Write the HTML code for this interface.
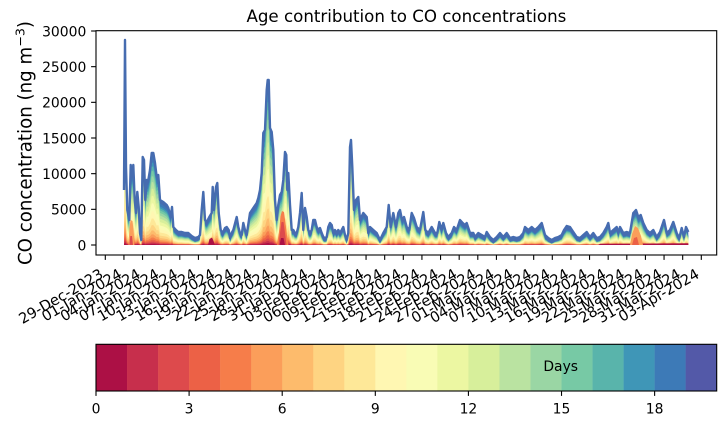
<!DOCTYPE html>
<html>
<head>
<meta charset="utf-8">
<style>
  html, body { margin: 0; padding: 0; background: #ffffff; }
  svg { display: block; }
  text { font-family: "DejaVu Sans", "Liberation Sans", sans-serif; fill: #000; }
</style>
</head>
<body>
<svg width="725" height="425" viewBox="0 0 725 425" xmlns="http://www.w3.org/2000/svg">
  <defs>
    <path id="area" d="M124,245 L124,190 L125,40 L126,167 L127.3,210 L129.3,220 L130.7,165 L132,177 L133.3,165 L134.7,200 L136,213 L137.3,192 L138.7,207 L140,233 L141.3,240 L142.7,157 L144,160 L145.3,200 L146.7,180 L148,182 L150,170 L151.7,153 L153.3,153 L155,163 L156.7,177 L158.3,175 L160,200 L163.3,202 L166.7,205 L168.3,208 L170.7,217 L172,207 L173.3,227 L176,230 L178.3,232 L181.7,232 L185,233 L188.3,233 L191.7,236 L195,238 L198.3,237 L200,235 L201.7,210 L203.3,192 L205,220 L206.7,222 L209.3,217 L211.7,213 L212.7,187 L214,210 L216,187 L217.3,183 L218.7,213 L220.7,230 L222.7,233 L225,228 L226.7,227 L228.7,230 L230,238 L231.7,233 L233.3,230 L236.7,217 L238.3,227 L240,233 L241.7,235 L243.3,223 L245,230 L246.7,235 L250,213 L253.3,208 L256.7,203 L258.3,198 L260,190 L261.7,173 L263.3,133 L265,130 L266.7,90 L267.7,80 L268.7,80 L270,128 L271.7,132 L273.3,150 L275,200 L276.7,220 L278.3,205 L280,195 L281.7,192 L283.3,180 L285,152 L286.3,155 L287.3,190 L288.3,173 L290,205 L291.7,230 L293.3,230 L295,233 L296.7,233 L298.3,227 L300,213 L301.7,193 L303.3,230 L305,208 L306.7,217 L308.3,230 L310,233 L311.7,230 L313.3,220 L315,220 L316.7,227 L318.3,230 L320,228 L321.7,233 L323.3,237 L325,238 L326.7,237 L328.3,227 L330,223 L331.7,225 L333.3,233 L335,230 L336.7,233 L338.3,230 L340,233 L341.7,230 L343.3,227 L345,235 L346.7,240 L348.3,233 L350,147 L351,140 L352.3,167 L354,210 L356,200 L358.3,197 L360,220 L363.3,213 L366.7,217 L368.3,233 L370,227 L373.3,230 L376.7,233 L380,240 L383.3,233 L386.7,227 L388.7,205 L390.7,227 L393.3,213 L396,227 L398.3,213 L400,210 L402,220 L404,217 L406.7,227 L409.3,230 L411.7,213 L414,218 L416.7,227 L420,230 L423.3,212 L425.3,230 L428.3,233 L431.7,227 L435,233 L437.3,233 L439.3,222 L441.7,230 L443.3,223 L446,233 L448.3,237 L451.7,233 L454,227 L456.7,230 L460,220 L462.7,223 L465,225 L466.7,223 L470,233 L473.3,233 L475,237 L478.3,233 L481.7,235 L485,237 L486.7,232 L490,237 L493.3,240 L496.7,237 L500,233 L503.3,237 L506.7,233 L510,238 L513.3,237 L516.7,238 L520,237 L523.3,233 L525,227 L528.3,230 L531.7,227 L535,230 L538.3,227 L541.7,223 L545,235 L548.3,238 L551.7,240 L555,238 L558.3,237 L561.7,235 L564,230 L566.7,226 L570,227 L573.3,232 L576.7,237 L580,238 L583.3,235 L586.7,232 L590,237 L593.3,233 L596.7,238 L600,237 L603.3,233 L606.7,227 L608.3,223 L610,233 L613.3,230 L616.7,227 L618.3,233 L620,227 L623.3,233 L626.7,232 L630,233 L633.3,213 L636,210 L638.3,217 L640.7,215 L643.3,223 L646.7,230 L650,233 L653.3,230 L656.7,237 L660,232 L664,220 L666.7,233 L670,230 L673.3,222 L676.7,233 L679.3,238 L681.7,228 L684,237 L686,227 L688.3,232 L688.3,245 Z"/>
    <clipPath id="cb"><rect x="0" y="0" width="725" height="245"/></clipPath>
  </defs>

  <!-- Title -->
  <text x="406.4" y="22" font-size="16.67" text-anchor="middle">Age contribution to CO concentrations</text>

  <!-- Y label -->
  <text x="31.5" y="143" font-size="18.2" text-anchor="middle" transform="rotate(-90 31.5 143)">CO concentration (ng m<tspan font-size="12.7" dy="-7">−3</tspan><tspan dy="7">)</tspan></text>

  <!-- Stacked areas -->
  <use href="#area" fill="rgb(70,108,176)"/>
  <g clip-path="url(#cb)">
    <g>
      <use href="#area" fill="rgb(61,122,183)" transform="translate(0,245) scale(1,1.0) translate(0,-241.5)"/>
      <use href="#area" fill="rgb(63,150,183)" transform="translate(0,245) scale(1,0.93) translate(0,-241.5)"/>
      <use href="#area" fill="rgb(89,180,171)" transform="translate(0,245) scale(1,0.885) translate(0,-241.5)"/>
      <use href="#area" fill="rgb(119,201,165)" transform="translate(0,245) scale(1,0.835) translate(0,-241.5)"/>
      <use href="#area" fill="rgb(154,214,164)" transform="translate(0,245) scale(1,0.775) translate(0,-241.5)"/>
      <use href="#area" fill="rgb(186,227,161)" transform="translate(0,245) scale(1,0.71) translate(0,-241.5)"/>
      <use href="#area" fill="rgb(215,239,155)" transform="translate(0,245) scale(1,0.635) translate(0,-241.5)"/>
      <use href="#area" fill="rgb(236,247,162)" transform="translate(0,245) scale(1,0.555) translate(0,-241.5)"/>
      <use href="#area" fill="rgb(249,252,181)" transform="translate(0,245) scale(1,0.47) translate(0,-241.5)"/>
      <use href="#area" fill="rgb(255,247,178)" transform="translate(0,245) scale(1,0.38) translate(0,-241.5)"/>
      <use href="#area" fill="rgb(254,232,152)" transform="translate(0,245) scale(1,0.3) translate(0,-241.5)"/>
      <use href="#area" fill="rgb(254,212,130)" transform="translate(0,245) scale(1,0.225) translate(0,-241.5)"/>
      <use href="#area" fill="rgb(253,187,108)" transform="translate(0,245) scale(1,0.165) translate(0,-241.5)"/>
      <use href="#area" fill="rgb(251,158,90)" transform="translate(0,245) scale(1,0.12) translate(0,-241.5)"/>
      <use href="#area" fill="rgb(246,125,74)" transform="translate(0,245) scale(1,0.085) translate(0,-241.5)"/>
      <use href="#area" fill="rgb(236,97,70)" transform="translate(0,245) scale(1,0.06) translate(0,-241.5)"/>
      <use href="#area" fill="rgb(221,74,76)" transform="translate(0,245) scale(1,0.04) translate(0,-241.5)"/>
      <use href="#area" fill="rgb(199,47,76)" transform="translate(0,245) scale(1,0.025) translate(0,-241.5)"/>
      <use href="#area" fill="rgb(172,16,69)" transform="translate(0,245) scale(1,0.012) translate(0,-241.5)"/>
    </g>
    <!-- local red/orange cores -->
    <polygon points="128.5,245 129.5,228 130.5,220 132.5,221 133.5,230 134.5,245" fill="rgb(251,158,90)"/>
    <polygon points="129.3,245 130.3,236 132,236 133,245" fill="rgb(221,74,76)"/>
    <polygon points="277,245 279,232 280.5,216 282,211 284,212 285.5,223 287,236 288.5,245" fill="rgb(246,125,74)"/>
    <polygon points="278.5,245 280,233 281.5,222 283.5,222 285,233 286.5,245" fill="rgb(221,74,76)"/>
    <polygon points="279.5,245 281,238 283.5,238 285,245" fill="rgb(172,16,69)"/>
    <polygon points="208,245 209.5,239 212,237.5 213.5,241 215,245" fill="rgb(172,16,69)"/>
    <polygon points="598,245 600,243.8 688.3,243.3 688.3,245" fill="rgb(172,16,69)"/>
    <polygon points="630,245 632,234 635,226 638,228 641,236 643,245" fill="rgb(251,158,90)"/>
    <polygon points="632,245 634,238 637,237 639,245" fill="rgb(236,97,70)"/>
  </g>
  <path d="M124,190 L125,40 L126,167 L127.3,210 L129.3,220 L130.7,165 L132,177 L133.3,165 L134.7,200 L136,213 L137.3,192 L138.7,207 L140,233 L141.3,240 L142.7,157 L144,160 L145.3,200 L146.7,180 L148,182 L150,170 L151.7,153 L153.3,153 L155,163 L156.7,177 L158.3,175 L160,200 L163.3,202 L166.7,205 L168.3,208 L170.7,217 L172,207 L173.3,227 L176,230 L178.3,232 L181.7,232 L185,233 L188.3,233 L191.7,236 L195,238 L198.3,237 L200,235 L201.7,210 L203.3,192 L205,220 L206.7,222 L209.3,217 L211.7,213 L212.7,187 L214,210 L216,187 L217.3,183 L218.7,213 L220.7,230 L222.7,233 L225,228 L226.7,227 L228.7,230 L230,238 L231.7,233 L233.3,230 L236.7,217 L238.3,227 L240,233 L241.7,235 L243.3,223 L245,230 L246.7,235 L250,213 L253.3,208 L256.7,203 L258.3,198 L260,190 L261.7,173 L263.3,133 L265,130 L266.7,90 L267.7,80 L268.7,80 L270,128 L271.7,132 L273.3,150 L275,200 L276.7,220 L278.3,205 L280,195 L281.7,192 L283.3,180 L285,152 L286.3,155 L287.3,190 L288.3,173 L290,205 L291.7,230 L293.3,230 L295,233 L296.7,233 L298.3,227 L300,213 L301.7,193 L303.3,230 L305,208 L306.7,217 L308.3,230 L310,233 L311.7,230 L313.3,220 L315,220 L316.7,227 L318.3,230 L320,228 L321.7,233 L323.3,237 L325,238 L326.7,237 L328.3,227 L330,223 L331.7,225 L333.3,233 L335,230 L336.7,233 L338.3,230 L340,233 L341.7,230 L343.3,227 L345,235 L346.7,240 L348.3,233 L350,147 L351,140 L352.3,167 L354,210 L356,200 L358.3,197 L360,220 L363.3,213 L366.7,217 L368.3,233 L370,227 L373.3,230 L376.7,233 L380,240 L383.3,233 L386.7,227 L388.7,205 L390.7,227 L393.3,213 L396,227 L398.3,213 L400,210 L402,220 L404,217 L406.7,227 L409.3,230 L411.7,213 L414,218 L416.7,227 L420,230 L423.3,212 L425.3,230 L428.3,233 L431.7,227 L435,233 L437.3,233 L439.3,222 L441.7,230 L443.3,223 L446,233 L448.3,237 L451.7,233 L454,227 L456.7,230 L460,220 L462.7,223 L465,225 L466.7,223 L470,233 L473.3,233 L475,237 L478.3,233 L481.7,235 L485,237 L486.7,232 L490,237 L493.3,240 L496.7,237 L500,233 L503.3,237 L506.7,233 L510,238 L513.3,237 L516.7,238 L520,237 L523.3,233 L525,227 L528.3,230 L531.7,227 L535,230 L538.3,227 L541.7,223 L545,235 L548.3,238 L551.7,240 L555,238 L558.3,237 L561.7,235 L564,230 L566.7,226 L570,227 L573.3,232 L576.7,237 L580,238 L583.3,235 L586.7,232 L590,237 L593.3,233 L596.7,238 L600,237 L603.3,233 L606.7,227 L608.3,223 L610,233 L613.3,230 L616.7,227 L618.3,233 L620,227 L623.3,233 L626.7,232 L630,233 L633.3,213 L636,210 L638.3,217 L640.7,215 L643.3,223 L646.7,230 L650,233 L653.3,230 L656.7,237 L660,232 L664,220 L666.7,233 L670,230 L673.3,222 L676.7,233 L679.3,238 L681.7,228 L684,237 L686,227 L688.3,232" fill="none" stroke="rgb(70,108,176)" stroke-width="2.4" stroke-linejoin="round"/>

  <!-- Axes frame -->
  <rect x="96" y="30.7" width="620.7" height="224.3" fill="none" stroke="#000" stroke-width="1.1"/>

  <!-- Y ticks -->
  <g stroke="#000" stroke-width="1.1">
    <line x1="91.1" y1="245" x2="96" y2="245"/>
    <line x1="91.1" y1="209.33" x2="96" y2="209.33"/>
    <line x1="91.1" y1="173.67" x2="96" y2="173.67"/>
    <line x1="91.1" y1="138" x2="96" y2="138"/>
    <line x1="91.1" y1="102.33" x2="96" y2="102.33"/>
    <line x1="91.1" y1="66.67" x2="96" y2="66.67"/>
    <line x1="91.1" y1="31" x2="96" y2="31"/>
  </g>
  <g font-size="13.9" text-anchor="end">
    <text x="86.3" y="250.4">0</text>
    <text x="86.3" y="214.7">5000</text>
    <text x="86.3" y="179.1">10000</text>
    <text x="86.3" y="143.4">15000</text>
    <text x="86.3" y="107.7">20000</text>
    <text x="86.3" y="72.1">25000</text>
    <text x="86.3" y="36.4">30000</text>
  </g>

  <!-- X ticks -->
  <g stroke="#000" stroke-width="1.1">
    <line x1="105.3" y1="255" x2="105.3" y2="259.9"/>
    <line x1="123.93" y1="255" x2="123.93" y2="259.9"/>
    <line x1="142.55" y1="255" x2="142.55" y2="259.9"/>
    <line x1="161.18" y1="255" x2="161.18" y2="259.9"/>
    <line x1="179.8" y1="255" x2="179.8" y2="259.9"/>
    <line x1="198.43" y1="255" x2="198.43" y2="259.9"/>
    <line x1="217.05" y1="255" x2="217.05" y2="259.9"/>
    <line x1="235.68" y1="255" x2="235.68" y2="259.9"/>
    <line x1="254.3" y1="255" x2="254.3" y2="259.9"/>
    <line x1="272.93" y1="255" x2="272.93" y2="259.9"/>
    <line x1="291.55" y1="255" x2="291.55" y2="259.9"/>
    <line x1="310.18" y1="255" x2="310.18" y2="259.9"/>
    <line x1="328.8" y1="255" x2="328.8" y2="259.9"/>
    <line x1="347.43" y1="255" x2="347.43" y2="259.9"/>
    <line x1="366.05" y1="255" x2="366.05" y2="259.9"/>
    <line x1="384.68" y1="255" x2="384.68" y2="259.9"/>
    <line x1="403.3" y1="255" x2="403.3" y2="259.9"/>
    <line x1="421.93" y1="255" x2="421.93" y2="259.9"/>
    <line x1="440.55" y1="255" x2="440.55" y2="259.9"/>
    <line x1="459.18" y1="255" x2="459.18" y2="259.9"/>
    <line x1="477.8" y1="255" x2="477.8" y2="259.9"/>
    <line x1="496.43" y1="255" x2="496.43" y2="259.9"/>
    <line x1="515.05" y1="255" x2="515.05" y2="259.9"/>
    <line x1="533.68" y1="255" x2="533.68" y2="259.9"/>
    <line x1="552.3" y1="255" x2="552.3" y2="259.9"/>
    <line x1="570.93" y1="255" x2="570.93" y2="259.9"/>
    <line x1="589.55" y1="255" x2="589.55" y2="259.9"/>
    <line x1="608.18" y1="255" x2="608.18" y2="259.9"/>
    <line x1="626.8" y1="255" x2="626.8" y2="259.9"/>
    <line x1="645.43" y1="255" x2="645.43" y2="259.9"/>
    <line x1="664.05" y1="255" x2="664.05" y2="259.9"/>
    <line x1="682.68" y1="255" x2="682.68" y2="259.9"/>
    <line x1="701.3" y1="255" x2="701.3" y2="259.9"/>
  </g>
  <g font-size="14.6" text-anchor="end">
    <text x="104.3" y="277" transform="rotate(-30 104.3 277)">29-Dec-2023</text>
    <text x="122.93" y="277" transform="rotate(-30 122.93 277)">01-Jan-2024</text>
    <text x="141.55" y="277" transform="rotate(-30 141.55 277)">04-Jan-2024</text>
    <text x="160.18" y="277" transform="rotate(-30 160.18 277)">07-Jan-2024</text>
    <text x="178.8" y="277" transform="rotate(-30 178.8 277)">10-Jan-2024</text>
    <text x="197.43" y="277" transform="rotate(-30 197.43 277)">13-Jan-2024</text>
    <text x="216.05" y="277" transform="rotate(-30 216.05 277)">16-Jan-2024</text>
    <text x="234.68" y="277" transform="rotate(-30 234.68 277)">19-Jan-2024</text>
    <text x="253.3" y="277" transform="rotate(-30 253.3 277)">22-Jan-2024</text>
    <text x="271.93" y="277" transform="rotate(-30 271.93 277)">25-Jan-2024</text>
    <text x="290.55" y="277" transform="rotate(-30 290.55 277)">28-Jan-2024</text>
    <text x="309.18" y="277" transform="rotate(-30 309.18 277)">31-Jan-2024</text>
    <text x="327.8" y="277" transform="rotate(-30 327.8 277)">03-Feb-2024</text>
    <text x="346.43" y="277" transform="rotate(-30 346.43 277)">06-Feb-2024</text>
    <text x="365.05" y="277" transform="rotate(-30 365.05 277)">09-Feb-2024</text>
    <text x="383.68" y="277" transform="rotate(-30 383.68 277)">12-Feb-2024</text>
    <text x="402.3" y="277" transform="rotate(-30 402.3 277)">15-Feb-2024</text>
    <text x="420.93" y="277" transform="rotate(-30 420.93 277)">18-Feb-2024</text>
    <text x="439.55" y="277" transform="rotate(-30 439.55 277)">21-Feb-2024</text>
    <text x="458.18" y="277" transform="rotate(-30 458.18 277)">24-Feb-2024</text>
    <text x="476.8" y="277" transform="rotate(-30 476.8 277)">27-Feb-2024</text>
    <text x="495.43" y="277" transform="rotate(-30 495.43 277)">01-Mar-2024</text>
    <text x="514.05" y="277" transform="rotate(-30 514.05 277)">04-Mar-2024</text>
    <text x="532.68" y="277" transform="rotate(-30 532.68 277)">07-Mar-2024</text>
    <text x="551.3" y="277" transform="rotate(-30 551.3 277)">10-Mar-2024</text>
    <text x="569.93" y="277" transform="rotate(-30 569.93 277)">13-Mar-2024</text>
    <text x="588.55" y="277" transform="rotate(-30 588.55 277)">16-Mar-2024</text>
    <text x="607.18" y="277" transform="rotate(-30 607.18 277)">19-Mar-2024</text>
    <text x="625.8" y="277" transform="rotate(-30 625.8 277)">22-Mar-2024</text>
    <text x="644.43" y="277" transform="rotate(-30 644.43 277)">25-Mar-2024</text>
    <text x="663.05" y="277" transform="rotate(-30 663.05 277)">28-Mar-2024</text>
    <text x="681.68" y="277" transform="rotate(-30 681.68 277)">31-Mar-2024</text>
    <text x="700.3" y="277" transform="rotate(-30 700.3 277)">03-Apr-2024</text>
  </g>

  <!-- Colorbar -->
  <g>
    <rect x="96" y="344.3" width="31.3" height="46.7" fill="rgb(172,16,69)"/>
    <rect x="127.03" y="344.3" width="31.3" height="46.7" fill="rgb(199,47,76)"/>
    <rect x="158.07" y="344.3" width="31.3" height="46.7" fill="rgb(221,74,76)"/>
    <rect x="189.1" y="344.3" width="31.3" height="46.7" fill="rgb(236,97,70)"/>
    <rect x="220.14" y="344.3" width="31.3" height="46.7" fill="rgb(246,125,74)"/>
    <rect x="251.17" y="344.3" width="31.3" height="46.7" fill="rgb(251,158,90)"/>
    <rect x="282.21" y="344.3" width="31.3" height="46.7" fill="rgb(253,187,108)"/>
    <rect x="313.24" y="344.3" width="31.3" height="46.7" fill="rgb(254,212,130)"/>
    <rect x="344.28" y="344.3" width="31.3" height="46.7" fill="rgb(254,232,152)"/>
    <rect x="375.31" y="344.3" width="31.3" height="46.7" fill="rgb(255,247,178)"/>
    <rect x="406.35" y="344.3" width="31.3" height="46.7" fill="rgb(249,252,181)"/>
    <rect x="437.38" y="344.3" width="31.3" height="46.7" fill="rgb(236,247,162)"/>
    <rect x="468.42" y="344.3" width="31.3" height="46.7" fill="rgb(215,239,155)"/>
    <rect x="499.45" y="344.3" width="31.3" height="46.7" fill="rgb(186,227,161)"/>
    <rect x="530.49" y="344.3" width="31.3" height="46.7" fill="rgb(154,214,164)"/>
    <rect x="561.52" y="344.3" width="31.3" height="46.7" fill="rgb(119,201,165)"/>
    <rect x="592.56" y="344.3" width="31.3" height="46.7" fill="rgb(89,180,171)"/>
    <rect x="623.59" y="344.3" width="31.3" height="46.7" fill="rgb(63,150,183)"/>
    <rect x="654.63" y="344.3" width="31.3" height="46.7" fill="rgb(61,122,183)"/>
    <rect x="685.66" y="344.3" width="31.04" height="46.7" fill="rgb(83,89,168)"/>
  </g>
  <rect x="96" y="344.3" width="620.7" height="46.7" fill="none" stroke="#000" stroke-width="1.1"/>
  <text x="560.7" y="371.2" font-size="13.9" text-anchor="middle">Days</text>
  <g stroke="#000" stroke-width="1.1">
    <line x1="96" y1="391" x2="96" y2="395.9"/>
    <line x1="189.1" y1="391" x2="189.1" y2="395.9"/>
    <line x1="282.21" y1="391" x2="282.21" y2="395.9"/>
    <line x1="375.31" y1="391" x2="375.31" y2="395.9"/>
    <line x1="468.42" y1="391" x2="468.42" y2="395.9"/>
    <line x1="561.52" y1="391" x2="561.52" y2="395.9"/>
    <line x1="654.63" y1="391" x2="654.63" y2="395.9"/>
  </g>
  <g font-size="13.9" text-anchor="middle">
    <text x="96" y="413.4">0</text>
    <text x="189.1" y="413.4">3</text>
    <text x="282.21" y="413.4">6</text>
    <text x="375.31" y="413.4">9</text>
    <text x="468.42" y="413.4">12</text>
    <text x="561.52" y="413.4">15</text>
    <text x="654.63" y="413.4">18</text>
  </g>
</svg>
</body>
</html>
